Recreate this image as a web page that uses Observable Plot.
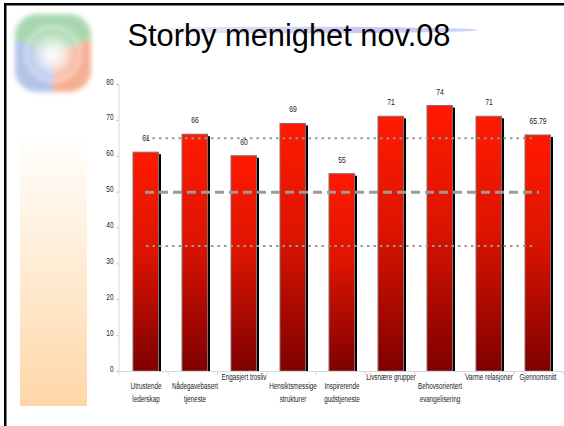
<!DOCTYPE html>
<html>
<head>
<meta charset="utf-8">
<script src="https://cdn.jsdelivr.net/npm/d3@7"></script>
<script src="https://cdn.jsdelivr.net/npm/@observablehq/plot@0.6"></script>
<style>
  body { margin: 0; background: #fff; }
  #wrap { position: relative; width: 564px; height: 426px; overflow: hidden; background: #fff; }
  #deco { position: absolute; left: 0; top: 0; }
  #chart { position: absolute; left: 0; top: 0; }
  #chart svg { background: transparent; }
</style>
</head>
<body>
<div id="wrap">
  <svg id="deco" width="564" height="426" viewBox="0 0 564 426">
    <defs>
      <linearGradient id="sideGrad" x1="0" y1="0" x2="0" y2="1">
        <stop offset="0" stop-color="#ffffff"/>
        <stop offset="1" stop-color="#ffd7a8"/>
      </linearGradient>
      <linearGradient id="swoosh" x1="0" y1="0" x2="1" y2="0">
        <stop offset="0" stop-color="#ffffff" stop-opacity="0"/>
        <stop offset="0.25" stop-color="#e4e4f8"/>
        <stop offset="0.7" stop-color="#c8c8ef"/>
        <stop offset="0.97" stop-color="#d4d4f6"/>
        <stop offset="1" stop-color="#ffffff" stop-opacity="0"/>
      </linearGradient>
      <radialGradient id="glow" cx="0.5" cy="0.5" r="0.5">
        <stop offset="0" stop-color="#ffffff" stop-opacity="1"/>
        <stop offset="0.4" stop-color="#ffffff" stop-opacity="0.7"/>
        <stop offset="1" stop-color="#ffffff" stop-opacity="0"/>
      </radialGradient>
      <clipPath id="logoClip">
        <rect x="15" y="14" width="76" height="78" rx="22"/>
      </clipPath>
      <filter id="blur" x="-20%" y="-20%" width="140%" height="140%">
        <feGaussianBlur stdDeviation="2.8"/>
      </filter>
    </defs>
    <!-- slide frame (top and left edges) -->
    <rect x="4" y="3" width="560" height="2.5" fill="#000"/>
    <rect x="4" y="3" width="2.5" height="423" fill="#000"/>
    <!-- left decorative gradient strip -->
    <rect x="20" y="133" width="67" height="273" fill="url(#sideGrad)"/>
    <!-- logo -->
    <g filter="url(#blur)" opacity="0.78">
      <g clip-path="url(#logoClip)">
        <path d="M53,53 L53,110 A57,57 0 0 1 0,33 Z" fill="#9db3e2"/>
        <path d="M53,53 L0,33 L20,0 L90,0 L106,34 Z" fill="#8fcd99"/>
        <path d="M53,53 L106,34 L106,110 L53,110 Z" fill="#f29a76"/>
      </g>
      <circle cx="53" cy="54" r="27" fill="none" stroke="#ffffff" stroke-opacity="0.5" stroke-width="3"/>
      <circle cx="53" cy="55" r="26" fill="url(#glow)"/>
    </g>
    <!-- title swoosh -->
    <ellipse cx="292" cy="30" rx="192" ry="3.2" fill="url(#swoosh)"/>
    <text x="289" y="46" text-anchor="middle" font-family="Liberation Sans, Arial, sans-serif" font-size="30.8" fill="#000">Storby menighet nov.08</text>
  </svg>
  <div id="chart"></div>
</div>
<script>
// ---- data ----
const categories = [
  "Utrustende lederskap", "Nådegavebasert tjeneste", "Engasjert trosliv",
  "Hensiktsmessige strukturer", "Inspirerende gudstjeneste", "Livsnære grupper",
  "Behovsorientert evangelisering", "Varme relasjoner", "Gjennomsnitt"
];
const tickLabels = [
  "Utrustende\nlederskap", "Nådegavebasert\ntjeneste", "Engasjert trosliv",
  "Hensiktsmessige\nstrukturer", "Inspirerende\ngudstjeneste", "Livsnære grupper",
  "Behovsorientert\nevangelisering", "Varme relasjoner", "Gjennomsnitt"
];
const values = [61, 66, 60, 69, 55, 71, 74, 71, 65.79];
const valueLabels = ["61", "66", "60", "69", "55", "71", "74", "71", "65.79"];
const yTicks = [0, 10, 20, 30, 40, 50, 60, 70, 80];
const dottedLevels = [65, 35];
const dashedLevels = [50];

const rows = categories.map((c, i) => ({cat: c, value: values[i], label: valueLabels[i]}));
const labelOf = new Map(categories.map((c, i) => [c, tickLabels[i]]));
const first = categories[0], last = categories[categories.length - 1];
const refRows = (levels) => levels.map(v => ({y: v, x1: first, x2: last}));

const font = "'Liberation Sans', Arial, sans-serif";

const plot = Plot.plot({
  width: 564,
  height: 426,
  marginLeft: 119,
  marginRight: 1,
  marginTop: 84,
  marginBottom: 55,
  style: {fontFamily: font, background: "transparent", color: "#1a1a1a"},
  x: {domain: categories, padding: 0, label: null},
  y: {domain: [0, 80], label: null},
  marks: [
    // shadow
    Plot.barY(rows, {x: "cat", y: "value", fill: "#000", insetLeft: 12, insetRight: 11.5, dx: 2.5, dy: 2, insetBottom: 2}),
    // bars
    Plot.barY(rows, {x: "cat", y: "value", fill: "url(#redGrad)", stroke: "#8a6a6a", strokeWidth: 1, insetLeft: 12, insetRight: 11.5}),
    // reference lines (from the centre of the first band to the centre of the last)
    Plot.ruleY(refRows(dottedLevels), {y: "y", x1: "x1", x2: "x2", insetLeft: 25, insetRight: 26, stroke: "#999", strokeWidth: 2, strokeDasharray: "2.5,4"}),
    Plot.ruleY(refRows(dashedLevels), {y: "y", x1: "x1", x2: "x2", insetLeft: 24, insetRight: 23, stroke: "#9a9a9a", strokeWidth: 3, strokeDasharray: "9,5"}),
    // value labels
    Plot.text(rows, {x: "cat", y: "value", text: "label", dy: -11.5, fontSize: 9, fill: "#1a1a1a", className: "narrow"}),
    // axes
    Plot.ruleY([0], {stroke: "#d8d8d8"}),
    Plot.axisY({ticks: yTicks, tickSize: 3, tickPadding: 3, stroke: "#c8c8c8", fontSize: 8.5, fill: "#1a1a1a", className: "narrow"}),
    Plot.axisX({tickSize: 0, tickPadding: 8, fontSize: 8.3, lineHeight: 1.6, fill: "#1a1a1a", className: "narrow", tickFormat: d => labelOf.get(d)})
  ]
});

// gradient for the bar fill
const svg = d3.select(plot);
const defs = svg.insert("defs", ":first-child");
const g = defs.append("linearGradient").attr("id", "redGrad").attr("x1", 0).attr("y1", 0).attr("x2", 0).attr("y2", 1);
g.append("stop").attr("offset", 0).attr("stop-color", "#ff1a00");
g.append("stop").attr("offset", 0.45).attr("stop-color", "#dd1400");
g.append("stop").attr("offset", 1).attr("stop-color", "#7e0000");

// condensed look (like the narrow humanist face of the original): squeeze texts horizontally
svg.selectAll("g.narrow text").each(function() {
  const t = d3.select(this);
  const tr = t.attr("transform");
  const x = +t.attr("x") || 0, y = +t.attr("y") || 0;
  t.attr("x", null).attr("y", null);
  t.attr("transform", `${tr ? tr + " " : ""}translate(${x},${y}) scale(0.76,1)`);
});

// y axis line and x band separators, from the scales
const xs = plot.scale("x"), ys = plot.scale("y");
const [r0, r1] = xs.range;
const step = (r1 - r0) / categories.length;
const y0 = ys.apply(0), yTop = ys.apply(80);
svg.append("line").attr("x1", r0).attr("x2", r0).attr("y1", yTop).attr("y2", y0).attr("stroke", "#d8d8d8");
for (let i = 0; i <= categories.length; i++) {
  svg.append("line").attr("x1", r0 + i * step).attr("x2", r0 + i * step)
    .attr("y1", y0).attr("y2", y0 + 4).attr("stroke", "#d8d8d8");
}

document.getElementById("chart").appendChild(plot);
</script>
</body>
</html>
